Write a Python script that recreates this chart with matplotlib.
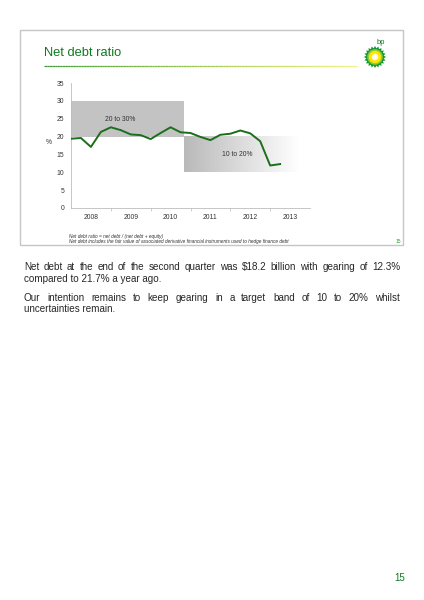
import numpy as np
import matplotlib
matplotlib.use("Agg")
import matplotlib.pyplot as plt
from matplotlib.patches import Rectangle, Polygon, Circle
from matplotlib.collections import LineCollection
from matplotlib.colors import LinearSegmentedColormap

# ---------------- data ----------------
years = ["2008", "2009", "2010", "2011", "2012", "2013"]
quarters = ["2008Q1", "2008Q2", "2008Q3", "2008Q4", "2009Q1", "2009Q2", "2009Q3", "2009Q4",
            "2010Q1", "2010Q2", "2010Q3", "2010Q4", "2011Q1", "2011Q2", "2011Q3", "2011Q4",
            "2012Q1", "2012Q2", "2012Q3", "2012Q4", "2013Q1", "2013Q2"]
net_debt_ratio = [19.4, 19.6, 17.1, 21.3, 22.6, 21.8, 20.6, 20.4, 19.3, 21.0, 22.6, 21.2,
                  21.0, 19.9, 19.0, 20.5, 20.8, 21.7, 20.9, 18.7, 11.9, 12.3]
band_labels = ["20 to 30%", "10 to 20%"]
band_low = [20, 10]
band_high = [30, 20]
band_start = [0.0, 11.35]   # in quarter index units
band_end = [11.35, 22.8]
y_ticks = [0, 5, 10, 15, 20, 25, 30, 35]

title = "Net debt ratio"
footnotes = ["Net debt ratio = net debt / (net debt + equity)",
             "Net debt includes the fair value of associated derivative financial instruments used to hedge finance debt"]
para1 = ["Net debt at the end of the second quarter was $18.2 billion with gearing of 12.3%",
         "compared to 21.7% a year ago."]
para2 = ["Our intention remains to keep gearing in a target band of 10 to 20% whilst",
         "uncertainties remain."]

W, H = 424, 600
fig = plt.figure(figsize=(W / 100, H / 100), dpi=100)
fig.patch.set_facecolor("white")

# overlay axes in pixel coordinates
ov = fig.add_axes([0, 0, 1, 1])
ov.set_xlim(0, W)
ov.set_ylim(H, 0)
ov.axis("off")

GREEN = "#0f7a1f"
body_font = "Liberation Sans"

# slide border
ov.add_patch(Rectangle((20, 30), 383, 215, fill=False, ec="#c6c6c6", lw=1.0))

# title
ov.text(44, 53, title, color=GREEN, fontsize=9.3, family=body_font, va="center", ha="left")

# gradient underline
xs = np.linspace(44, 357, 120)
segs = [[(xs[i], 66), (xs[i + 1], 66)] for i in range(len(xs) - 1)]
cm_line = LinearSegmentedColormap.from_list("ul", ["#3f9a35", "#9cc84a", "#eef27a"])
lc = LineCollection(segs, colors=[cm_line(t) for t in np.linspace(0, 1, len(segs))], lw=0.9)
ov.add_collection(lc)

# bp logo (helios)
cx, cy = 375, 57
n = 40
ang = np.linspace(0, 2 * np.pi, n, endpoint=False)
pts = []
for i, a in enumerate(ang):
    r = 11.0 if i % 2 == 0 else 8.8
    pts.append((cx + r * np.cos(a), cy + r * np.sin(a)))
ov.add_patch(Polygon(pts, closed=True, fc="#139a2c", ec="none"))
ov.add_patch(Circle((cx, cy), 7.8, fc="#8cc63f", ec="none"))
ov.add_patch(Circle((cx, cy), 6.2, fc="#ffe600", ec="none"))
ov.add_patch(Circle((cx, cy), 3.3, fc="#fffbd0", ec="none"))
ov.add_patch(Circle((cx, cy), 1.8, fc="white", ec="none"))
ov.text(381, 42, "bp", color=GREEN, fontsize=5.5, family=body_font, va="center", ha="center")

# footnotes
ov.text(69, 236.5, footnotes[0], fontsize=3.4, style="italic", color="#333333",
        family=body_font, va="center", ha="left")
ov.text(69, 241.5, footnotes[1], fontsize=3.4, style="italic", color="#333333",
        family=body_font, va="center", ha="left")
ov.text(398, 241.5, "15", fontsize=3.6, color="#3a9a3a", family=body_font, va="center", ha="center")

# page number
ov.text(400, 578, "15", fontsize=7, color=GREEN, family=body_font, va="center", ha="center")

# ---------------- chart ----------------
left_px, right_px, top_px, bot_px = 71, 310, 83, 208
ax = fig.add_axes([left_px / W, 1 - bot_px / H, (right_px - left_px) / W, (bot_px - top_px) / H])
ax.set_facecolor("none")
x = np.arange(len(net_debt_ratio))

# band 1 solid gray
ax.add_patch(Rectangle((band_start[0], band_low[0]), band_end[0] - band_start[0],
                       band_high[0] - band_low[0], fc="#c3c3c3", ec="none", zorder=1))
# band 2 gradient
grad = np.linspace(0, 1, 256).reshape(1, -1)
cm_band = LinearSegmentedColormap.from_list("band", ["#b9b9b9", "#dcdcdc", "#ffffff"])
ax.imshow(grad, cmap=cm_band, aspect="auto", zorder=1,
          extent=[band_start[1], band_end[1], band_low[1], band_high[1]], interpolation="bilinear")
ax.set_xlim(0, 4 * len(years))
ax.set_ylim(0, 35)

TICK_FS = 4.9
ax.text(4.9, 24.9, band_labels[0], fontsize=4.9, color="#333333", family=body_font,
        ha="center", va="center", zorder=3)
ax.text(16.7, 15.1, band_labels[1], fontsize=4.9, color="#333333", family=body_font,
        ha="center", va="center", zorder=3)

ax.plot(x, net_debt_ratio, color="#1b6e1b", lw=1.4, zorder=4, solid_joinstyle="round")

for s in ["top", "right"]:
    ax.spines[s].set_visible(False)
for s in ["left", "bottom"]:
    ax.spines[s].set_color("#bdbdbd")
    ax.spines[s].set_linewidth(0.6)

ax.set_yticks(y_ticks)
ax.set_yticklabels([str(v) for v in y_ticks], fontsize=TICK_FS, color="#333333", family=body_font)
ax.tick_params(axis="y", length=0, pad=5)

ax.set_xticks([4 * i for i in range(1, len(years))])
ax.set_xticklabels([])
ax.tick_params(axis="x", which="major", length=2, width=0.5, color="#bdbdbd", direction="out")
ax.set_xticks([4 * i + 2 for i in range(len(years))], minor=True)
ax.set_xticklabels(years, minor=True, fontsize=TICK_FS, color="#333333", family=body_font)
ax.tick_params(axis="x", which="minor", length=0, pad=4)

ov.text(49, 143, "%", fontsize=TICK_FS, color="#333333", family=body_font, ha="center", va="center")

# ---------------- body text (justified) ----------------
fig.canvas.draw()
renderer = fig.canvas.get_renderer()
BODY_SIZE = 7.1
BODY_COLOR = "#262626"


def justified_line(text, y, x0, x1, justify=True):
    words = text.split(" ")
    if not justify:
        ov.text(x0, y, text, fontsize=BODY_SIZE, family=body_font, color=BODY_COLOR,
                ha="left", va="baseline")
        return
    arts = [ov.text(0, y, w, fontsize=BODY_SIZE, family=body_font, color=BODY_COLOR,
                    ha="left", va="baseline") for w in words]
    widths = [a.get_window_extent(renderer).width for a in arts]
    gap = (x1 - x0 - sum(widths)) / (len(words) - 1)
    pos = x0
    for a, w in zip(arts, widths):
        a.set_x(pos)
        pos += w + gap


justified_line(para1[0], 270, 24, 400)
justified_line(para1[1], 281.5, 24, 400, justify=False)
justified_line(para2[0], 301, 24, 400)
justified_line(para2[1], 312.5, 24, 400, justify=False)

fig.savefig("out.png", dpi=100, facecolor="white")
